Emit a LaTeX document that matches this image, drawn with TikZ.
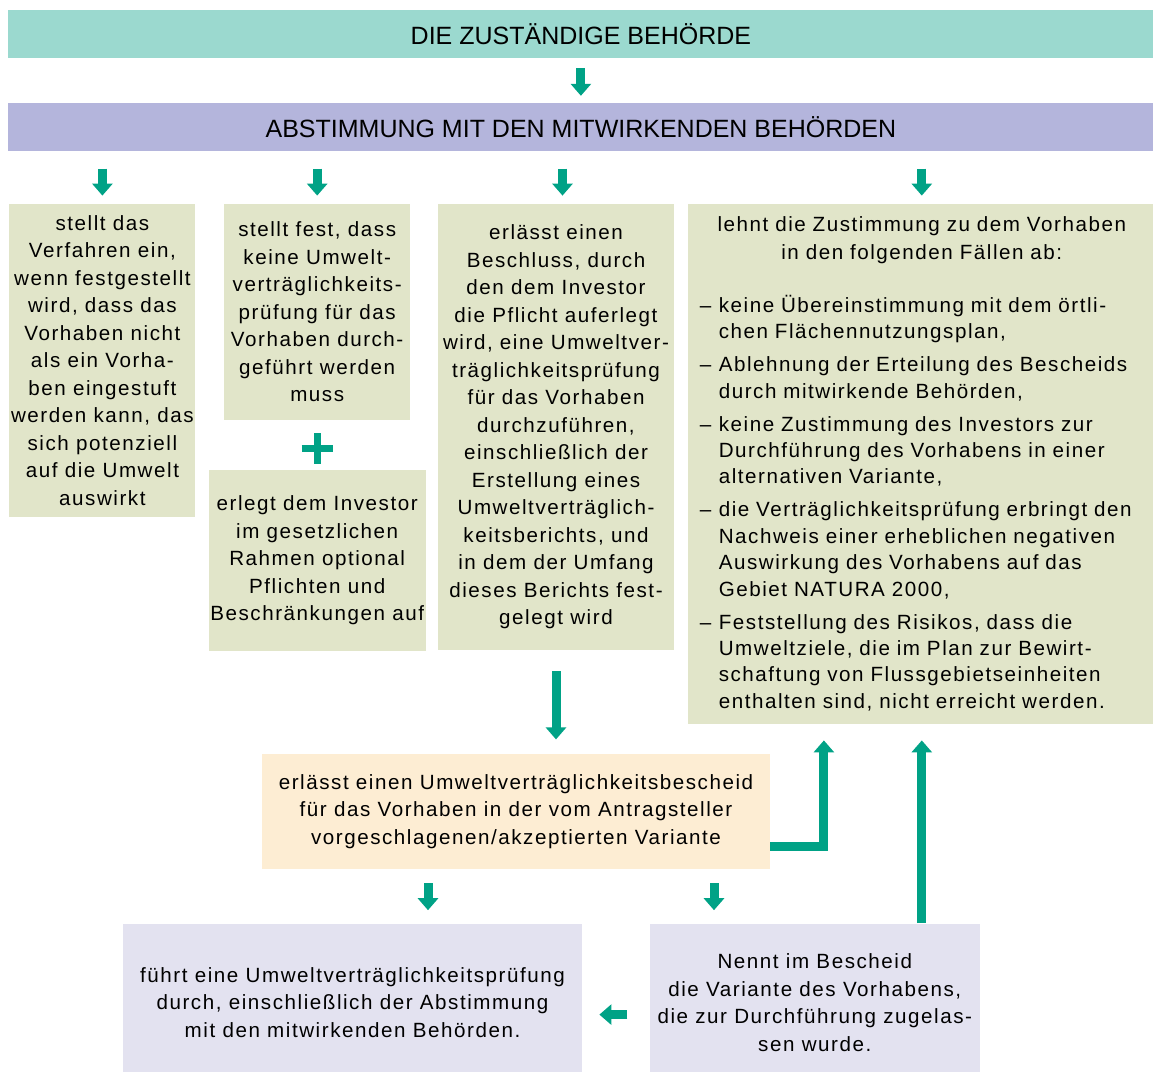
\documentclass[tikz,border=0pt]{standalone}
\usepackage{fontspec}
\setmainfont{Liberation Sans}[LetterSpace=7.5]
\newfontfamily\headfont{Liberation Sans}
\usetikzlibrary{arrows.meta,positioning}
\definecolor{authteal}{HTML}{9BD9CF}
\definecolor{consultblue}{HTML}{B4B5DC}
\definecolor{stepolive}{HTML}{E1E5C9}
\definecolor{permitcream}{HTML}{FDEDD3}
\definecolor{resultlilac}{HTML}{E3E2F0}
\definecolor{arrowgreen}{HTML}{00A286}
\newcommand\bodyfont{\fontsize{10.3}{13.75}\selectfont}
\newcommand\refuseitem{\noindent\hangindent=9.5pt\hangafter=1\makebox[9.5pt][l]{–}}
\tikzset{
  box/.style={align=center,inner sep=0pt,font=\bodyfont},
  bar/.style={box,font=\headfont\fontsize{12.5}{14}\selectfont,
    minimum width=572.5pt,minimum height=24pt},
  authority/.style={bar,fill=authteal},
  consult/.style={bar,fill=consultblue},
  outcome/.style={box,fill=stepolive},
  permit/.style={box,fill=permitcream},
  result/.style={box,fill=resultlilac},
  arrow/.style={-{Triangle[width=10pt,length=6pt]},line width=4.5pt,draw=arrowgreen},
  plusmark/.style={line width=3.5pt,draw=arrowgreen}
}
\begin{document}
\begin{tikzpicture}[x=0.5pt,y=-0.5pt]
\useasboundingbox (0,0) rectangle (1153,1072);
\node[authority,anchor=north west] (auth) at (8,10) {DIE ZUSTÄNDIGE BEHÖRDE};
\node[consult,below=22pt of auth] (consult) {ABSTIMMUNG MIT DEN MITWIRKENDEN BEHÖRDEN};
\node[outcome,minimum width=93pt,minimum height=156.5pt,below right=26pt and 0.5pt of consult.south west] (stop)
  {stellt das\\Verfahren ein,\\wenn festgestellt\\wird, dass das\\Vorhaben nicht\\als ein Vorha-\\ben eingestuft\\werden kann, das\\sich potenziell\\auf die Umwelt\\auswirkt};
\node[outcome,minimum width=93pt,minimum height=108pt,right=14pt of stop.north east,anchor=north west] (nocheck)
  {stellt fest, dass\\keine Umwelt-\\verträglichkeits-\\prüfung für das\\Vorhaben durch-\\geführt werden\\muss};
\node[outcome,minimum width=108.5pt,minimum height=90.5pt,below=24.5pt of nocheck] (optional)
  {erlegt dem Investor\\im gesetzlichen\\Rahmen optional\\Pflichten und\\Beschränkungen auf};
\node[outcome,minimum width=118pt,minimum height=223pt,right=13.5pt of nocheck.north east,anchor=north west] (order)
  {erlässt einen\\Beschluss, durch\\den dem Investor\\die Pflicht auferlegt\\wird, eine Umweltver-\\träglichkeitsprüfung\\für das Vorhaben\\durchzuführen,\\einschließlich der\\Erstellung eines\\Umweltverträglich-\\keitsberichts, und\\in dem der Umfang\\dieses Berichts fest-\\gelegt wird};
\node[outcome,minimum width=234pt,minimum height=260pt,text width=222pt,align=left,right=6.5pt of order.north east,anchor=north west] (refuse) {%
  {\centering lehnt die Zustimmung zu dem Vorhaben\\in den folgenden Fällen ab:\par}
  \vspace{10pt}
  {\fontsize{10.3}{13.2}\selectfont\parskip=3.3pt
  \refuseitem keine Übereinstimmung mit dem örtli-\newline chen Flächennutzungsplan,\par
  \refuseitem Ablehnung der Erteilung des Bescheids\newline durch mitwirkende Behörden,\par
  \refuseitem keine Zustimmung des Investors zur\newline Durchführung des Vorhabens in einer\newline alternativen Variante,\par
  \refuseitem die Verträglichkeitsprüfung erbringt den\newline Nachweis einer erheblichen negativen\newline Auswirkung des Vorhabens auf das\newline Gebiet NATURA 2000,\par
  \refuseitem Feststellung des Risikos, dass die\newline Umweltziele, die im Plan zur Bewirt-\newline schaftung von Flussgebietseinheiten\newline enthalten sind, nicht erreicht werden.\par}
  \vspace{-4pt}};
\node[permit,minimum width=254pt,minimum height=57.5pt,below=51.5pt of order,xshift=-20pt] (permit)
  {erlässt einen Umweltverträglichkeitsbescheid\\für das Vorhaben in der vom Antragsteller\\vorgeschlagenen/akzeptierten Variante};
\node[result,minimum width=229.5pt,minimum height=79pt,below=27pt of permit,xshift=-81.75pt] (assess)
  {führt eine Umweltverträglichkeitsprüfung\\durch, einschließlich der Abstimmung\\mit den mitwirkenden Behörden.};
\node[result,minimum width=165pt,minimum height=79pt,right=33.5pt of assess] (variant)
  {Nennt im Bescheid\\die Variante des Vorhabens,\\die zur Durchführung zugelas-\\sen wurde.};
% arrows
\draw[arrow,shorten <=4.5pt,shorten >=3.5pt] (auth) -- (consult);
\foreach \b/\dx in {stop/0,nocheck/0,order/3.25,refuse/0}{
  \coordinate (tip) at ([xshift=\dx pt]\b.north);
  \draw[arrow,shorten <=8.5pt,shorten >=4pt] (consult.south -| tip) -- (tip);
}
\path (nocheck.south) -- (optional.north) coordinate[pos=.5] (plus);
\draw[plusmark] ([xshift=-7.75pt,yshift=-2pt]plus) -- ([xshift=7.75pt,yshift=-2pt]plus)
  ([yshift=5.75pt]plus) -- ([yshift=-9.75pt]plus);
\draw[arrow,shorten <=10.5pt,shorten >=7pt] (order) -- (order |- permit.north);
\draw[arrow,shorten >=8pt] ([yshift=-17.5pt]permit.east) -| ([xshift=68.25pt]refuse.south west);
\draw[arrow,shorten >=8pt] (variant.north -| refuse) -- (refuse.south);
\coordinate (toassess) at ([xshift=-44pt]permit.south);
\coordinate (tovariant) at ([xshift=99pt]permit.south);
\draw[arrow,shorten <=7pt,shorten >=6.5pt] (toassess) -- (toassess |- assess.north);
\draw[arrow,shorten <=7pt,shorten >=6.5pt] (tovariant) -- (tovariant |- variant.north);
\draw[arrow,shorten <=11pt,shorten >=8.5pt] ([yshift=-6pt]variant.west) -- ([yshift=-6pt]assess.east);
\end{tikzpicture}
\end{document}
